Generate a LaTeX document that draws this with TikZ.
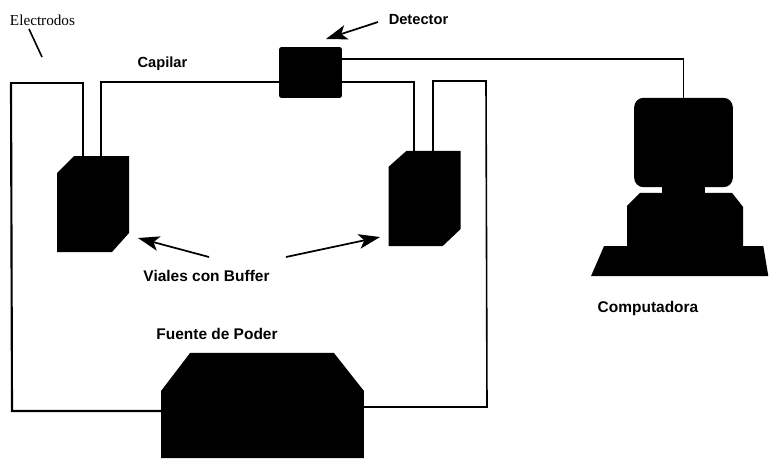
\documentclass[tikz,border=0pt]{standalone}
\usepackage{fontspec}
\setmainfont{Liberation Sans}
\newfontfamily\rmlabel{Liberation Serif}
\usepackage{tikz}
\usetikzlibrary{positioning, arrows.meta, calc}

\begin{document}
\begin{tikzpicture}[
		x=0.75pt, y=-0.75pt,
		node distance=0pt,
		part/.style={inner sep=0pt, outer sep=0pt},
		solid part/.style={part, fill=black},
		label/.style={font=\fontsize{11}{13}\selectfont\bfseries, inner sep=0pt},
		wide label/.style={font=\fontsize{11.6}{13}\selectfont\bfseries, inner sep=0pt},
		capillary/.style={line width=2.1pt},
		wire/.style={line width=1.2pt},
		arrow/.style={-{Stealth[length=16pt, width=11pt, inset=4pt]}, line width=1.3pt}
		]
		\useasboundingbox (0,0) rectangle (769,458);
		
		% Nodes
		\node[solid part, rounded corners=1.5pt, minimum width=47pt, minimum height=38pt] (detector) at (310.5,72.5) {};
		\node[part, minimum width=54pt, minimum height=72pt] (vialL) at (93,204) {};
		\node[part, minimum width=54pt, minimum height=71.5pt] (vialR) at (424.5,198.5) {};
		\node[part, minimum width=152pt, minimum height=79pt] (power) at (262.5,405.5) {};
		
		\node[solid part, rounded corners=7pt, minimum width=74pt, minimum height=67pt] (monitor) at (683.5,142.5) {};
		\node[solid part, minimum width=32pt, minimum height=6pt, below=of monitor] (neck) {};
		\node[part, minimum width=87pt, minimum height=40pt] (body) at (685,219.5) {};
		\node[part, minimum width=133pt, minimum height=22.5pt, below=of body, xshift=-4pt] (keyboard) {};
		
		% Bodies
		\fill ($(vialL.north west)+(0,17)$) -- ($(vialL.north west)+(17,0)$) -- (vialL.north east) -- ($(vialL.south east)+(0,-19)$) -- ($(vialL.south east)+(-17,0)$) -- (vialL.south west) -- cycle;
		\fill ($(vialR.north west)+(0,16)$) -- ($(vialR.north west)+(18,0)$) -- (vialR.north east) -- ($(vialR.south east)+(0,-17)$) -- ($(vialR.south east)+(-18,0)$) -- (vialR.south west) -- cycle;
		\fill ($(power.north west)+(0,38)$) -- ($(power.north west)+(29,0)$) -- ($(power.north east)+(-30,0)$) -- ($(power.north east)+(0,38)$) -- (power.south east) -- (power.south west) -- cycle;
		\fill ($(body.north west)+(0,13)$) -- ($(body.north west)+(13,0)$) -- ($(body.north east)+(-11,0)$) -- ($(body.north east)+(0,14)$) -- (body.south east) -- (body.south west) -- cycle;
		\fill ($(keyboard.north west)+(13,0)$) -- ($(keyboard.north east)+(-5,0)$) -- (keyboard.south east) -- (keyboard.south west) -- cycle;
		
		% Labels
		\node[font=\fontsize{11.4}{13}\selectfont\rmlabel, inner sep=0pt] (electrodos) at (42.5,20) {Electrodos};
		\node[label] (capilar) at (162.5,64) {Capilar};
		\node[label] (detectorlabel) at (418.5,20) {Detector};
		\node[wide label] (viales) at (206.5,276) {Viales con Buffer};
		\node[wide label] (fuente) at (217,334) {Fuente de Poder};
		\node[wide label] (computadora) at (648,308) {Computadora};
		
		% Corners and free ends
		\coordinate (capL) at (101,156);
		\coordinate (capR) at (414,151);
		\coordinate (elecL) at (83,156);
		\coordinate (elecR) at (433,151);
		\coordinate (powerL) at (161,411);
		\coordinate (powerR) at (364,407);
		\coordinate (tickA) at (29,29);
		\coordinate (tickB) at (42,57);
		\coordinate (detA) at (378,22);
		\coordinate (detB) at (326,39);
		\coordinate (bufA) at (209,257);
		\coordinate (bufB) at (138,238);
		\coordinate (bufC) at (286,257);
		\coordinate (bufD) at (380,237);
		
		% Capillary
		\draw[capillary] (capL) |- (detector.west |- 0,82);
		\draw[capillary] (detector.east |- 0,82) -| (capR);
		
		% Electrodes
		\draw[capillary] (elecL) -- (83,83) -- (11,83);
		\draw[line width=1.6pt] (11,82) -- (12,411) -- (powerL);
		\draw[capillary] (elecR) -- (433,81) -- (486,81);
		\draw[wire] (486,80) -- (487,407) -- (powerR);
		
		% Signal
		\draw[wire] (detector.east |- 0,59) -| (monitor.north);
		
		% Arrows
		\draw[wire] (tickA) -- (tickB);
		\draw[arrow] (detA) -- (detB);
		\draw[arrow] (bufA) -- (bufB);
		\draw[arrow] (bufC) -- (bufD);
		
	\end{tikzpicture}
\end{document}
